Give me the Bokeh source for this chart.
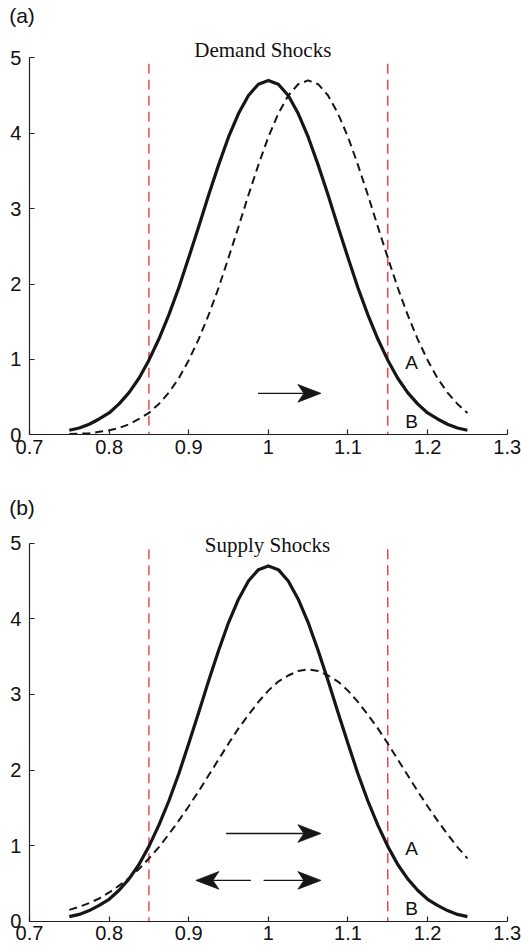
from bokeh.plotting import figure
from bokeh.layouts import column
from bokeh.models import Range1d, FixedTicker, Label
from bokeh.embed import file_html
from bokeh.resources import INLINE
from bokeh.core.properties import value

# ---------------- data ----------------
x_vals = [0.75, 0.7625, 0.775, 0.7875, 0.80, 0.8125, 0.825, 0.8375, 0.85, 0.8625,
          0.875, 0.8875, 0.90, 0.9125, 0.925, 0.9375, 0.95, 0.9625, 0.975, 0.9875,
          1.00, 1.0125, 1.025, 1.0375, 1.05, 1.0625, 1.075, 1.0875, 1.10, 1.1125,
          1.125, 1.1375, 1.15, 1.1625, 1.175, 1.1875, 1.20, 1.2125, 1.225, 1.2375, 1.25]

baseline_density = [0.06, 0.09, 0.14, 0.21, 0.29, 0.41, 0.56, 0.75, 0.99, 1.27,
                    1.59, 1.95, 2.35, 2.76, 3.18, 3.58, 3.95, 4.26, 4.50, 4.65,
                    4.70, 4.65, 4.50, 4.26, 3.95, 3.58, 3.18, 2.76, 2.35, 1.95,
                    1.59, 1.27, 0.99, 0.75, 0.56, 0.41, 0.29, 0.21, 0.14, 0.09, 0.06]

demand_density = [0.01, 0.015, 0.02, 0.04, 0.06, 0.09, 0.14, 0.21, 0.29, 0.41,
                  0.56, 0.75, 0.99, 1.27, 1.59, 1.95, 2.35, 2.76, 3.18, 3.58,
                  3.95, 4.26, 4.50, 4.65, 4.70, 4.65, 4.50, 4.26, 3.95, 3.58,
                  3.18, 2.76, 2.35, 1.95, 1.59, 1.27, 0.99, 0.75, 0.56, 0.41, 0.29]

supply_density = [0.15, 0.19, 0.24, 0.30, 0.38, 0.47, 0.57, 0.69, 0.83, 0.98,
                  1.15, 1.33, 1.52, 1.72, 1.93, 2.14, 2.35, 2.55, 2.73, 2.90,
                  3.05, 3.17, 3.25, 3.31, 3.33, 3.31, 3.25, 3.17, 3.05, 2.90,
                  2.73, 2.55, 2.35, 2.14, 1.93, 1.72, 1.52, 1.33, 1.15, 0.98, 0.83]

bounds_x = [0.85, 1.15]
bounds_top = 4.92

x_ticks = [0.7, 0.8, 0.9, 1.0, 1.1, 1.2, 1.3]
x_tick_labels = ["0.7", "0.8", "0.9", "1", "1.1", "1.2", "1.3"]
y_ticks = [0, 1, 2, 3, 4, 5]
y_tick_labels = ["0", "1", "2", "3", "4", "5"]

# arrows: (x_start, x_end, y)
arrows_a = [(0.987, 1.066, 0.55)]
arrows_b = [(0.947, 1.066, 1.16), (0.978, 0.909, 0.54), (0.994, 1.066, 0.54)]

label_x = 1.18
label_text = ["A", "B"]
label_y = [0.96, 0.17]

SANS = "Liberation Sans"
SERIF = "Liberation Serif"
RED = "#ec2a32"
INK = "#161616"

FIG_W = 521
X_LO, X_HI = 0.66358, 1.31794


def make_panel(height, y_lo, y_hi, dashed_vals, title, tag, title_x, title_y,
               tag_y, arrows):
    p = figure(width=FIG_W, height=height, x_range=Range1d(X_LO, X_HI),
               y_range=Range1d(y_lo, y_hi), output_backend="svg",
               toolbar_location=None, min_border_left=0, min_border_right=0,
               min_border_top=0, min_border_bottom=0)
    p.grid.visible = False
    p.outline_line_color = None
    p.background_fill_color = "white"
    p.border_fill_color = "white"

    p.xaxis.fixed_location = 0
    p.yaxis.fixed_location = 0.7
    p.xaxis.bounds = (0.7, 1.3)
    p.yaxis.bounds = (0, 5)
    p.xaxis.ticker = FixedTicker(ticks=x_ticks)
    p.xaxis.major_label_overrides = {t: s for t, s in zip(x_ticks, x_tick_labels)}
    p.yaxis.ticker = FixedTicker(ticks=y_ticks)
    p.yaxis.major_label_overrides = {t: s for t, s in zip(y_ticks, y_tick_labels)}
    for ax in (p.xaxis, p.yaxis):
        ax.major_tick_in = 5
        ax.major_tick_out = 0
        ax.minor_tick_in = 0
        ax.minor_tick_out = 0
        ax.axis_line_color = "#222222"
        ax.axis_line_width = 1.2
        ax.major_tick_line_color = "#222222"
        ax.major_tick_line_width = 1.2
        ax.major_label_text_font = SANS
        ax.major_label_text_font_size = "20px"
        ax.major_label_text_color = "#111111"
    p.xaxis.major_label_standoff = 5
    p.yaxis.major_label_standoff = 8

    sx = FIG_W / (X_HI - X_LO)
    sy = height / (y_hi - y_lo)

    # red bounds (drawn from the top down so the dash pattern starts at the top)
    p.segment(x0=bounds_x, y0=[bounds_top, bounds_top], x1=bounds_x, y1=[0, 0],
              line_color=RED, line_width=1.3, line_dash="10 6")

    # curves
    p.line(x_vals, dashed_vals, line_color=INK, line_width=2.0, line_dash="8 5")
    p.line(x_vals, baseline_density, line_color=INK, line_width=3.2,
           line_join="round")

    # arrows: shaft + swept (vee) head
    head_len, head_half, notch = 23.0, 8.8, 6.0
    for xs, xe, y in arrows:
        d = 1.0 if xe > xs else -1.0
        x_notch = xe - d * (head_len - notch) / sx
        p.line([xs, x_notch], [y, y], line_color=INK, line_width=1.3)
        p.patch([xe, xe - d * head_len / sx, x_notch, xe - d * head_len / sx],
                [y, y + head_half / sy, y, y - head_half / sy],
                fill_color=INK, line_color=INK, line_width=0.8)

    # A / B labels
    p.text(x=[label_x, label_x], y=label_y, text=label_text,
           text_font=value(SANS), text_font_size="19px", text_color="#111111",
           text_align="center", text_baseline="middle")

    p.add_layout(Label(x=title_x, y=title_y, text=title, text_font=SERIF,
                       text_font_size="21px", text_color="#111111",
                       text_align="center", text_baseline="alphabetic"))
    p.add_layout(Label(x=0.6745, y=tag_y, text=tag, text_font=SANS,
                       text_font_size="21px", text_color="#111111",
                       text_align="left", text_baseline="middle"))
    return p


pa = make_panel(465, -0.407, 5.760, demand_density, "Demand Shocks", "(a)",
                0.993, 5.10, 5.561, arrows_a)
pb = make_panel(484, -0.3743, 6.0278, supply_density, "Supply Shocks", "(b)",
                0.999, 4.97, 5.466, arrows_b)

layout = column(pa, pb)
open("out.html", "w").write(file_html(layout, INLINE))
